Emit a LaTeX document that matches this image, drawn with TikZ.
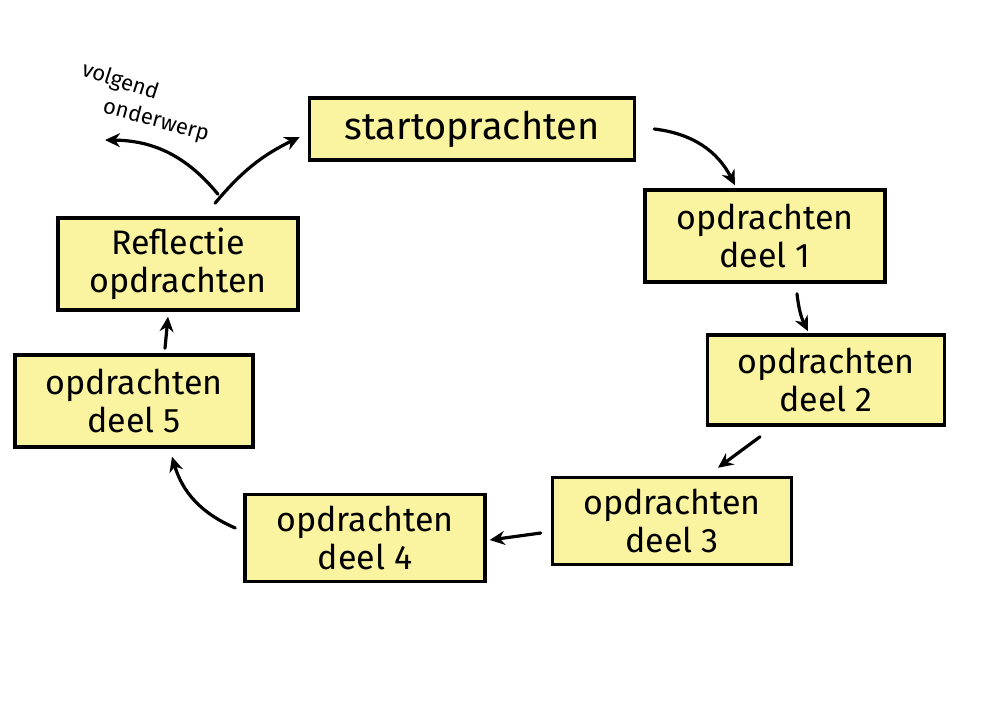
\documentclass[tikz,border=0pt]{standalone}
\usepackage{fontspec}
\setmainfont{Fira Sans}
\usetikzlibrary{arrows.meta}
\definecolor{boxyellow}{RGB}{250,243,160}
\tikzset{
  box/.style={draw=black, fill=boxyellow, line width=3.5pt, align=center,
    inner sep=0pt, font=\fontsize{34}{38}\selectfont},
  arr/.style={line width=3.2pt, -{Stealth[length=15pt,width=14pt]}, line cap=round},
  note/.style={inner sep=0pt, font=\fontsize{22}{24}\selectfont},
}
\begin{document}
\begin{tikzpicture}[x=1pt,y=1pt]
\useasboundingbox (0,0) rectangle (981,-720);
\fill[white] (0,0) rectangle (981,-720);

\node[box, minimum width=325pt, minimum height=62pt, font=\fontsize{38}{42}\selectfont] (start) at (472,-129) {startoprachten};
\node[box, minimum width=240pt, minimum height=92pt] (d1) at (765,-236) {opdrachten\\deel 1};
\node[box, minimum width=237pt, minimum height=90pt] (d2) at (826,-380) {opdrachten\\deel 2};
\node[box, minimum width=239pt, minimum height=87pt] (d3) at (672,-521) {opdrachten\\deel 3};
\node[box, minimum width=240pt, minimum height=87pt] (d4) at (365,-538) {opdrachten\\deel 4};
\node[box, minimum width=238pt, minimum height=92pt] (d5) at (134,-401) {opdrachten\\deel 5};
\node[box, minimum width=240pt, minimum height=92pt] (refl) at (178,-264) {Reflectie\\opdrachten};

\node[note, rotate=-18] (next1) at (120,-82) {volgend};
\node[note, rotate=-15] (next2) at (156,-121) {onderwerp};

\draw[arr] ([xshift=18pt]start.east) to[bend left=28] ([xshift=-30pt,yshift=3pt]d1.north);
\draw[arr] ([xshift=32pt,yshift=-10pt]d1.south) to[bend right=10] ([xshift=-18pt,yshift=2pt]d2.north);
\draw[arr] ([xshift=-66pt,yshift=-10pt]d2.south) -- ([xshift=46pt,yshift=8pt]d3.north);
\draw[arr] ([xshift=-10pt,yshift=-12pt]d3.west) -- ([xshift=3pt,yshift=-2pt]d4.east);
\draw[arr] ([xshift=-8pt,yshift=10pt]d4.west) to[bend left=25] ([xshift=38pt,yshift=-8pt]d5.south);
\draw[arr] ([xshift=31pt,yshift=5pt]d5.north) -- ([xshift=-10pt,yshift=-5pt]refl.south);
\draw[arr] ([xshift=37pt,yshift=13pt]refl.north) to[bend left=12] ([xshift=-8pt,yshift=-8pt]start.west);
\draw[arr] ([xshift=40pt,yshift=22pt]refl.north) to[bend right=25] ([xshift=-51pt,yshift=-19pt]next2.center);
\end{tikzpicture}
\end{document}
